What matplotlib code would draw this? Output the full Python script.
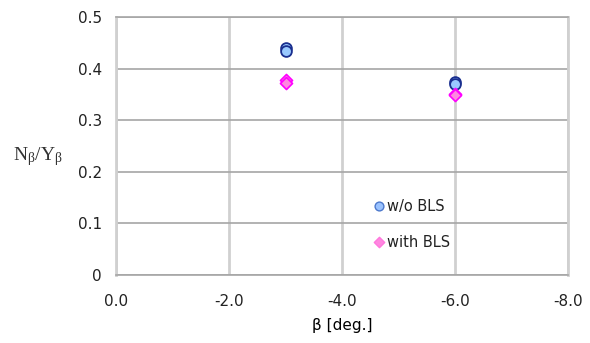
import numpy as np
import matplotlib
matplotlib.use('Agg')
import matplotlib.pyplot as plt
from matplotlib.ticker import FixedLocator

# beta angles and N/Y ratios
beta_wo = [-3.0, -3.0, -6.0, -6.0]
ratio_wo = [0.440, 0.434, 0.374, 0.371]
beta_with = [-3.0, -3.0, -6.0, -6.0]
ratio_with = [0.377, 0.372, 0.350, 0.348]

xticks = [0.0, -2.0, -4.0, -6.0, -8.0]
yticks = [0, 0.1, 0.2, 0.3, 0.4, 0.5]
ytick_labels = ['0', '0.1', '0.2', '0.3', '0.4', '0.5']

hcol = '#a6a6a6'   # horizontal gridlines
vcol = '#d0d0d0'   # vertical gridlines

fig = plt.figure(figsize=(5.9, 3.43), dpi=100)
ax = fig.add_axes([116 / 590, 1 - 275 / 343, (568 - 116) / 590, (275 - 17) / 343])

ax.scatter(beta_wo, ratio_wo, marker='o', s=60, facecolor='#99c9ff', edgecolor='#1a2f8f',
           linewidth=1.3, zorder=3)
ax.scatter(beta_with, ratio_with, marker='D', s=38, facecolor='#ff88e0', edgecolor='#ff00ff',
           linewidth=1.2, zorder=4)

ax.set_xlim(0, -8)
ax.set_ylim(0, 0.5)
ax.xaxis.set_major_locator(FixedLocator(xticks))
ax.set_xticklabels(['{:.1f}'.format(v) for v in xticks])
ax.set_yticks(yticks)
ax.set_yticklabels(ytick_labels)
ax.tick_params(length=0, labelsize=11, colors='#222222', pad=10)
ax.tick_params(axis='x', pad=14)

ax.grid(True, axis='y', color=hcol, linewidth=1.2)
ax.grid(True, axis='x', color=vcol, linewidth=2.0)
ax.set_axisbelow(True)
for side in ['top', 'bottom']:
    ax.spines[side].set_color(hcol)
    ax.spines[side].set_linewidth(1.2)
for side in ['left', 'right']:
    ax.spines[side].set_color(vcol)
    ax.spines[side].set_linewidth(2.0)

ax.set_xlabel('β [deg.]', fontsize=11, labelpad=6)
fig.text(38 / 590, 1 - 157 / 343, r'$\mathregular{N_{\beta}/Y_{\beta}}$', fontsize=14,
         family='Liberation Serif', ha='center', va='center', color='#333333')

# legend entries drawn as in the source chart
ax.scatter([-4.65], [0.133], marker='o', s=40, facecolor='#99c2ff', edgecolor='#4d79cc',
           linewidth=1.0, zorder=5)
ax.text(-4.8, 0.133, 'w/o BLS', fontsize=10.5, va='center', ha='left', color='#222222')
ax.scatter([-4.65], [0.063], marker='D', s=28, facecolor='#ff88e0', edgecolor='#ff77dd',
           linewidth=1.0, zorder=5)
ax.text(-4.8, 0.063, 'with BLS', fontsize=10.5, va='center', ha='left', color='#222222')

fig.savefig('out.png', dpi=100)
